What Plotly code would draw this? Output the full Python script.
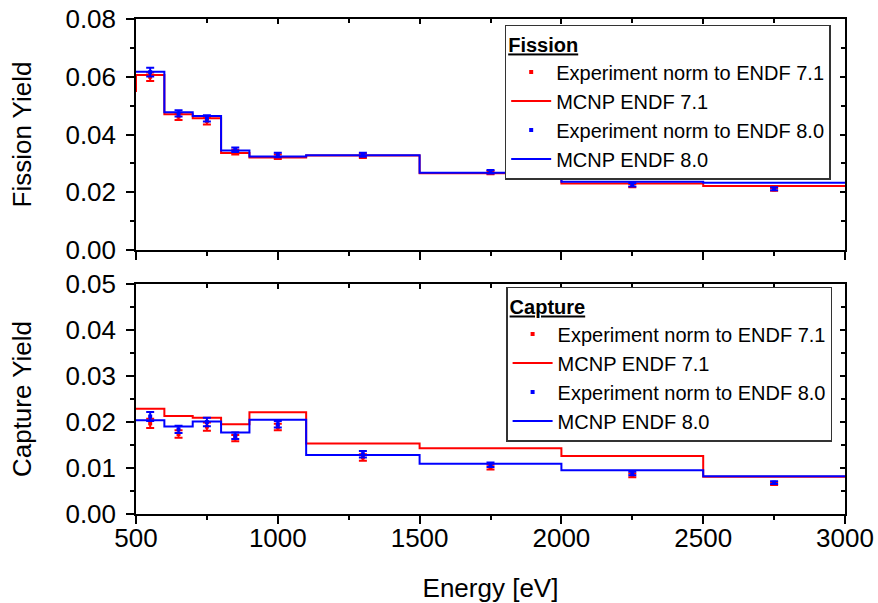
import plotly.graph_objects as go

# ---- data ----
energy_edges = [500, 600, 700, 800, 900, 1100, 1500, 2000, 2500, 3000]
# value reached at each edge (vh steps): first entry = start value at 500 eV
fission_mcnp71 = [0.0547, 0.0606, 0.0470, 0.0456, 0.0336, 0.0320, 0.0327, 0.0266, 0.0230, 0.0222]
fission_mcnp80 = [0.0617, 0.0617, 0.0477, 0.0464, 0.0345, 0.0324, 0.0328, 0.0268, 0.0236, 0.0233]
capture_mcnp71 = [0.0229, 0.0229, 0.0213, 0.0209, 0.0195, 0.0221, 0.0153, 0.0143, 0.0126, 0.0081]
capture_mcnp80 = [0.0204, 0.0204, 0.0190, 0.0201, 0.0177, 0.0205, 0.0128, 0.0109, 0.0095, 0.0082]

energy_exp = [550, 650, 750, 850, 1000, 1300, 1750, 2250, 2750]
fission_exp71 = [0.0600, 0.0462, 0.0447, 0.0339, 0.0323, 0.0326, 0.0268, 0.0223, 0.0210]
fission_exp71_err = [0.0015, 0.0012, 0.0012, 0.0008, 0.0008, 0.0007, 0.0006, 0.0006, 0.0005]
fission_exp80 = [0.0616, 0.0473, 0.0456, 0.0347, 0.0329, 0.0330, 0.0271, 0.0226, 0.0212]
fission_exp80_err = [0.0015, 0.0011, 0.0011, 0.0008, 0.0008, 0.0007, 0.0006, 0.0006, 0.0005]
capture_exp71 = [0.0197, 0.0174, 0.0190, 0.0165, 0.0189, 0.0123, 0.0102, 0.0084, 0.0066]
capture_exp71_err = [0.0010, 0.0008, 0.0009, 0.0007, 0.0007, 0.0007, 0.0005, 0.0004, 0.0003]
capture_exp80 = [0.0212, 0.0184, 0.0200, 0.0170, 0.0195, 0.0130, 0.0107, 0.0088, 0.0068]
capture_exp80_err = [0.0010, 0.0008, 0.0009, 0.0007, 0.0007, 0.0007, 0.0005, 0.0004, 0.0003]

RED = "#FF0000"
BLUE = "#0000FF"
FONT = "Liberation Sans, Arial, sans-serif"
TICK_SIZE = 26
LEG_SIZE = 20

fig = go.Figure()


def add_panel(exp71, err71, mc71, exp80, err80, mc80, xa, ya, leg):
    fig.add_trace(go.Scatter(
        x=energy_exp, y=exp71, mode="markers", name="Experiment norm to ENDF 7.1",
        marker=dict(symbol="square", size=4, color=RED),
        error_y=dict(type="data", array=err71, color=RED, thickness=2, width=4),
        xaxis=xa, yaxis=ya, legend=leg))
    fig.add_trace(go.Scatter(
        x=energy_edges, y=mc71, mode="lines", line_shape="vh", name="MCNP ENDF 7.1",
        line=dict(color=RED, width=2), xaxis=xa, yaxis=ya, legend=leg))
    fig.add_trace(go.Scatter(
        x=energy_exp, y=exp80, mode="markers", name="Experiment norm to ENDF 8.0",
        marker=dict(symbol="square", size=4, color=BLUE),
        error_y=dict(type="data", array=err80, color=BLUE, thickness=2, width=4),
        xaxis=xa, yaxis=ya, legend=leg))
    fig.add_trace(go.Scatter(
        x=energy_edges, y=mc80, mode="lines", line_shape="vh", name="MCNP ENDF 8.0",
        line=dict(color=BLUE, width=2), xaxis=xa, yaxis=ya, legend=leg))


add_panel(fission_exp71, fission_exp71_err, fission_mcnp71,
          fission_exp80, fission_exp80_err, fission_mcnp80, "x", "y", "legend")
add_panel(capture_exp71, capture_exp71_err, capture_mcnp71,
          capture_exp80, capture_exp80_err, capture_mcnp80, "x2", "y2", "legend2")

# dummy traces for mirror axes (inside ticks on top/right)
for xa, ya in [("x3", "y3"), ("x4", "y4")]:
    fig.add_trace(go.Scatter(x=[None], y=[None], xaxis=xa, yaxis=ya,
                             showlegend=False, hoverinfo="skip"))

top_dom = [0.5333, 1.0]
bot_dom = [0.0, 0.4646]
XR = [500, 3000]

ax_common = dict(showline=True, linecolor="black", linewidth=1.5, showgrid=False,
                 zeroline=False, tickfont=dict(family=FONT, size=TICK_SIZE, color="black"),
                 tickcolor="black", tickwidth=1.5, automargin=False)
minor_out = dict(ticks="outside", ticklen=4, tickcolor="black", tickwidth=1.5)
minor_in = dict(ticks="inside", ticklen=4, tickcolor="black", tickwidth=1.5)

legend_common = dict(xanchor="left", yanchor="top", bgcolor="white",
                     bordercolor="#333333", borderwidth=1.5,
                     font=dict(family=FONT, size=LEG_SIZE, color="black"),
                     tracegroupgap=0, itemwidth=40, traceorder="normal")

fig.update_layout(
    width=878, height=603, autosize=False,
    margin=dict(l=136, r=33, t=19, b=89, pad=0),
    plot_bgcolor="white", paper_bgcolor="white",
    font=dict(family=FONT, color="black"),
    xaxis=dict(**ax_common, domain=[0, 1], range=XR, anchor="y", ticks="outside", ticklen=8,
               dtick=500, showticklabels=False, minor=dict(dtick=250, **minor_out)),
    yaxis=dict(**ax_common, domain=top_dom, range=[0, 0.08], anchor="x", ticks="outside",
               ticklen=8, dtick=0.02, tickformat=".2f", ticklabelstandoff=5,
               minor=dict(dtick=0.01, **minor_out),
               title=dict(text="Fission Yield", font=dict(family=FONT, size=TICK_SIZE), standoff=26)),
    xaxis2=dict(**ax_common, domain=[0, 1], range=XR, anchor="y2", ticks="outside", ticklen=8,
                dtick=500, ticklabelstandoff=-8, minor=dict(dtick=250, **minor_out),
                title=dict(text="Energy [eV]", font=dict(family=FONT, size=TICK_SIZE), standoff=45)),
    yaxis2=dict(**ax_common, domain=bot_dom, range=[0, 0.05], anchor="x2", ticks="outside",
                ticklen=8, dtick=0.01, tickformat=".2f", ticklabelstandoff=5,
                minor=dict(dtick=0.005, **minor_out),
                title=dict(text="Capture Yield", font=dict(family=FONT, size=TICK_SIZE), standoff=26)),
    xaxis3=dict(**ax_common, range=XR, overlaying="x", anchor="y", side="top", ticks="inside",
                ticklen=5, dtick=500, showticklabels=False, minor=dict(dtick=250, **minor_in)),
    yaxis3=dict(**ax_common, domain=top_dom, range=[0, 0.08], overlaying="y", anchor="x",
                side="right", ticks="inside", ticklen=5, dtick=0.02, showticklabels=False,
                minor=dict(dtick=0.01, **minor_in)),
    xaxis4=dict(**ax_common, range=XR, overlaying="x2", anchor="y2", side="top", ticks="inside",
                ticklen=5, dtick=500, showticklabels=False, minor=dict(dtick=250, **minor_in)),
    yaxis4=dict(**ax_common, domain=bot_dom, range=[0, 0.05], overlaying="y2", anchor="x2",
                side="right", ticks="inside", ticklen=5, dtick=0.01, showticklabels=False,
                minor=dict(dtick=0.005, **minor_in)),
    legend=dict(x=0.520, y=0.988, **legend_common,
                title=dict(text="<b><u>Fission</u></b>", font=dict(family=FONT, size=LEG_SIZE))),
    legend2=dict(x=0.522, y=0.4586, **legend_common,
                 title=dict(text="<b><u>Capture</u></b>", font=dict(family=FONT, size=LEG_SIZE))),
)

fig.write_html("out.html", config={"displayModeBar": False},
               post_script="document.body.style.margin='0';")
